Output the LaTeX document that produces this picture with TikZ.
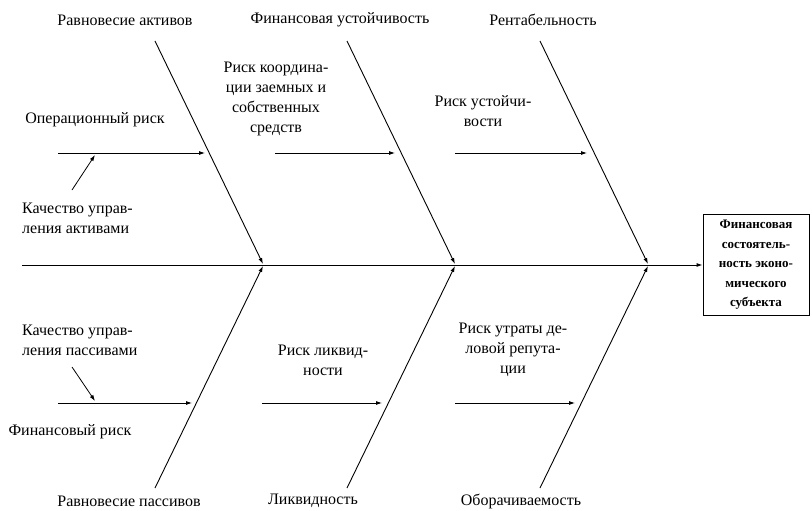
\documentclass[tikz,border=0pt]{standalone}
\usepackage{fontspec}
\setmainfont{Liberation Serif}
\usetikzlibrary{arrows.meta,positioning}

\tikzset{
  lbl/.style={font=\fontsize{16}{20}\selectfont, inner sep=0pt, align=center},
  lbll/.style={lbl, align=left, anchor=west},
  bone/.style={line width=0.9pt, -{Latex[length=6pt,width=4pt]}},
  rib/.style={line width=0.8pt, -{Latex[length=6pt,width=4pt]}},
  goalbox/.style={draw, line width=0.9pt, minimum width=106pt, minimum height=101pt,
        inner sep=1pt, align=center, font=\bfseries\fontsize{13}{19.5}\selectfont}
}

\begin{document}
\begin{tikzpicture}[x=1pt, y=-1pt]
  \useasboundingbox (0,0) rectangle (812,511);
  % ============================================================
  % 坐标: 像素单位, y 向下
  % ============================================================
  \def\yt{41}    % 上骨起点
  \def\yb{488}   % 下骨起点
  \def\ys{265}   % 主脊

  % 1. Goal box and spine
  \node[goalbox] (goal) at (756,\ys) {Финансовая\\состоятель-\\ность эконо-\\мического\\субъекта};
  \coordinate (spine) at (22,\ys);
  \draw[bone] (spine) -- (goal.west);

  % 2. Main bones (top / bottom)
  \foreach \i/\xa in {1/155, 2/347, 3/540} {
    \coordinate (top\i) at (\xa,\yt);
    \coordinate (topend\i) at (\xa+108,\ys-1);
    \coordinate (bot\i) at (\xa,\yb);
    \coordinate (botend\i) at (\xa+108,\ys+1);
    \draw[bone] (top\i) -- (topend\i);
    \draw[bone] (bot\i) -- (botend\i);
  }

  % 3. Bone heads
  \node[lbl] (headt1) at (125,20)  {Равновесие активов};
  \node[lbl] (headt2) at (340,20)  {Финансовая устойчивость};
  \node[lbl] (headt3) at (543,20)  {Рентабельность};
  \node[lbl] (headb1) at (129,501) {Равновесие пассивов};
  \node[lbl] (headb2) at (313,501) {Ликвидность};
  \node[lbl] (headb3) at (521,501) {Оборачиваемость};

  % 4. Ribs (horizontal risk arrows)
  \foreach \n/\xa/\xb/\yy in {rt1/58/205/153, rt2/275/395/153, rt3/455/587/153,
                              rb1/58/192/403, rb2/262/382/403, rb3/455/575/403} {
    \coordinate (\n s) at (\xa,\yy);
    \coordinate (\n e) at (\xb,\yy);
    \draw[rib] (\n s) -- (\n e);
  }

  % 5. Risk labels
  \node[lbl] (risk1) at (95,120)  {Операционный риск};
  \node[lbl] (risk2) at (276,99)  {Риск координа-\\ции заемных и\\собственных\\средств};
  \node[lbl] (risk3) at (483,111) {Риск устойчи-\\вости};
  \node[lbl] (risk4) at (70,432)  {Финансовый риск};
  \node[lbl] (risk5) at (323,360) {Риск ликвид-\\ности};
  \node[lbl] (risk6) at (513,350) {Риск утраты де-\\ловой репута-\\ции};

  % 6. Sub-causes
  \node[lbll] (subt) at (22,218) {Качество управ-\\ления активами};
  \node[lbll] (subb) at (22,340) {Качество управ-\\ления пассивами};
  \coordinate (subts) at (72,190);
  \coordinate (subte) at (95,155);
  \coordinate (subbs) at (72,367);
  \coordinate (subbe) at (95,401);
  \draw[rib] (subts) -- (subte);
  \draw[rib] (subbs) -- (subbe);
\end{tikzpicture}
\end{document}
